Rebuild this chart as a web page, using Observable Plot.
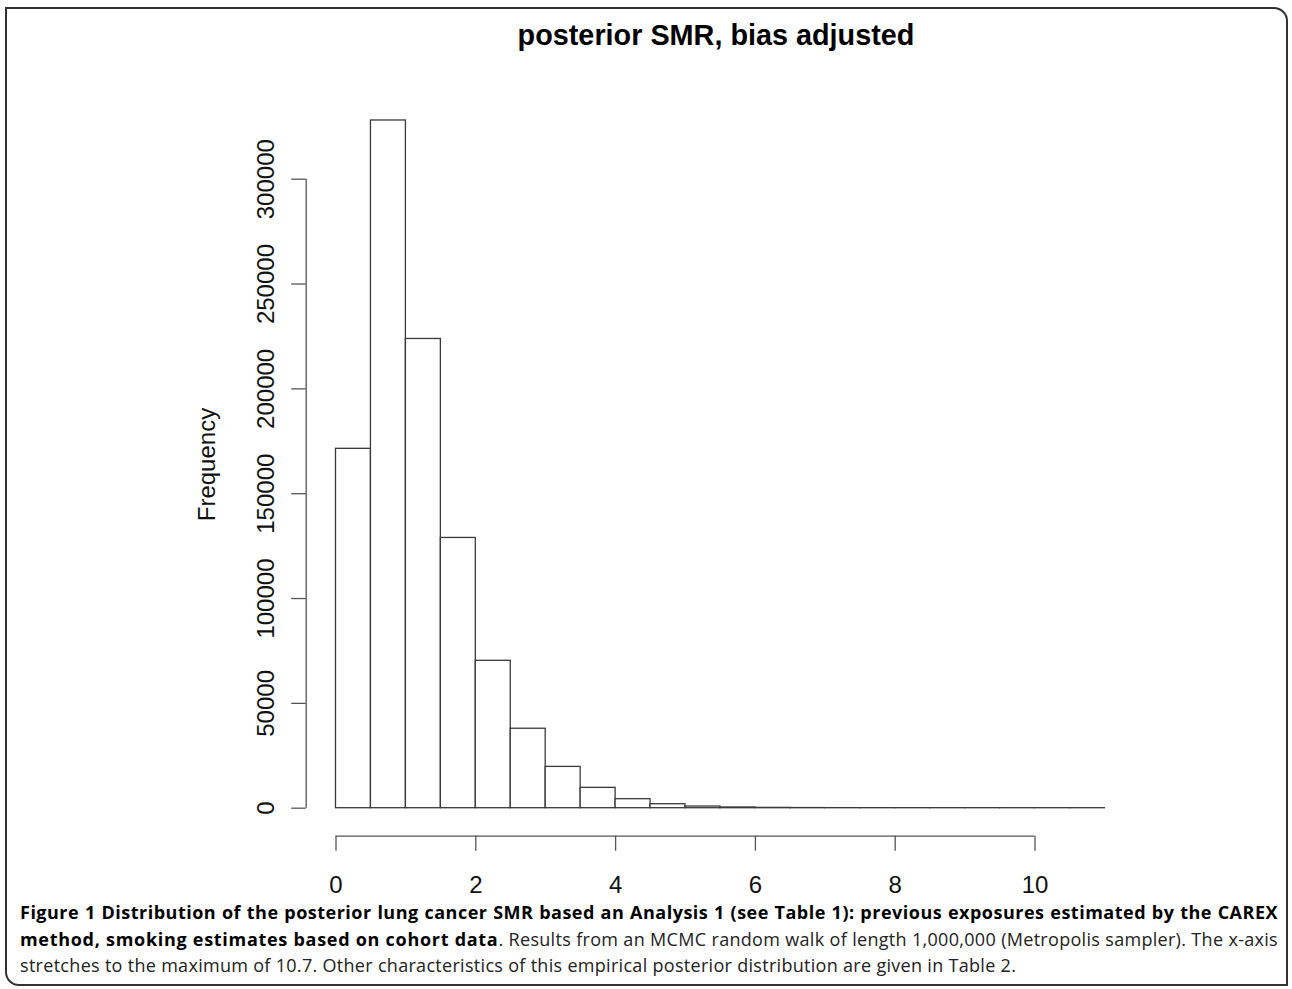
<!DOCTYPE html>
<html>
<head>
<meta charset="utf-8">
<script src="https://cdn.jsdelivr.net/npm/d3@7"></script>
<script src="https://cdn.jsdelivr.net/npm/@observablehq/plot@0.6"></script>
<style>
  html, body { margin: 0; padding: 0; background: #fff; }
  #wrap { position: relative; width: 1292px; height: 989px; overflow: hidden; }
  #border { position: absolute; left: 5px; top: 7px; width: 1279px; height: 975px;
    border: 2px solid #333; border-radius: 0 14px 0 14px; }
  #chart { position: absolute; left: 0; top: 0; }
  #title { position: absolute; left: 716px; top: 20.6px; transform: translateX(-50%);
    font-family: "Liberation Sans", Arial, sans-serif; font-weight: bold; font-size: 28.8px;
    line-height: 28.8px; white-space: nowrap; color: #000; }
  #caption { position: absolute; left: 20px; top: 899px; width: 1258px;
    font-family: "Open Sans", sans-serif; font-size: 18px; line-height: 26.5px; color: #222;
    letter-spacing: 0.3px; }
  #caption .line { display: block; text-align: justify; text-align-last: justify; white-space: nowrap; }
  #caption .line.last { text-align-last: left; }
  #caption b { color: #000; letter-spacing: 0.7px; }
  #caption .first b { letter-spacing: 0.5px; }
</style>
</head>
<body>
<div id="wrap">
  <div id="border"></div>
  <div id="chart"></div>
  <div id="title"></div>
  <div id="caption"></div>
</div>
<script>
// ---- data ----
const titleText = "posterior SMR, bias adjusted";
const yLabel = "Frequency";
const binLower = [0, 0.5, 1, 1.5, 2, 2.5, 3, 3.5, 4, 4.5, 5, 5.5, 6, 6.5, 7, 7.5, 8, 8.5, 9, 9.5, 10, 10.5];
const binWidth = 0.5;
const counts = [171400, 328000, 223800, 128900, 70300, 37900, 19700, 9700, 4300, 1900, 800, 350, 150, 70, 30, 15, 8, 4, 2, 1, 1, 1];
const xTicks = [0, 2, 4, 6, 8, 10];
const yTicks = [0, 50000, 100000, 150000, 200000, 250000, 300000];
const captionBold1 = "Figure 1 Distribution of the posterior lung cancer SMR based an Analysis 1 (see Table 1): previous exposures estimated by the CAREX";
const captionBold2 = "method, smoking estimates based on cohort data";
const captionRest2 = ". Results from an MCMC random walk of length 1,000,000 (Metropolis sampler). The x-axis";
const captionLine3 = "stretches to the maximum of 10.7. Other characteristics of this empirical posterior distribution are given in Table 2.";

const bins = binLower.map((lo, i) => ({x1: lo, x2: lo + binWidth, count: counts[i]}));

const W = 1292, H = 900;
const fontFamily = "'Liberation Sans', Arial, sans-serif";
const axisColor = "#555";

const chart = Plot.plot({
  width: W,
  height: H,
  marginLeft: 305.7,
  marginRight: 157,
  marginTop: 92.4,
  marginBottom: H - 835.7,
  style: {fontFamily, background: "transparent", overflow: "visible"},
  x: {domain: [xTicks[0], xTicks[xTicks.length - 1]], range: [335.5, 1034.5], axis: null},
  y: {domain: [yTicks[0], yTicks[yTicks.length - 1]], range: [807.7, 178.7], axis: null},
  marks: [
    Plot.rectY(bins, {x1: "x1", x2: "x2", y: "count", fill: "white", stroke: "#3a3a3a", strokeWidth: 1.3}),
    // x axis (detached, R style)
    Plot.ruleY([yTicks[0]], {x1: xTicks[0], x2: xTicks[xTicks.length - 1], dy: 28, stroke: axisColor, strokeWidth: 1.3}),
    Plot.axisX({ticks: xTicks, tickSize: 15, tickPadding: 24.3, fontSize: 24, stroke: axisColor, strokeWidth: 1.3, fill: "#111", label: null, tickFormat: d3.format("d")}),
    // y axis
    Plot.ruleX([xTicks[0]], {y1: yTicks[0], y2: yTicks[yTicks.length - 1], dx: -29.8, stroke: axisColor, strokeWidth: 1.3}),
    Plot.axisY({ticks: yTicks, tickSize: 14.5, tickFormat: () => "", stroke: axisColor, strokeWidth: 1.3, label: null}),
    Plot.text(yTicks, {y: d => d, frameAnchor: "left", text: d => d3.format("d")(d), rotate: -90, dx: -39.4, fontSize: 24, fill: "#111", textAnchor: "middle"}),
    Plot.text([yLabel], {frameAnchor: "left", text: d => d, rotate: -90, dx: -98.4, fontSize: 24, fill: "#111", textAnchor: "middle"})
  ]
});
document.getElementById("chart").appendChild(chart);
document.getElementById("title").textContent = titleText;

const cap = document.getElementById("caption");
const l1 = document.createElement("span"); l1.className = "line first";
const b1 = document.createElement("b"); b1.textContent = captionBold1; l1.appendChild(b1);
const l2 = document.createElement("span"); l2.className = "line";
const b2 = document.createElement("b"); b2.textContent = captionBold2; l2.appendChild(b2);
l2.appendChild(document.createTextNode(captionRest2));
const l3 = document.createElement("span"); l3.className = "line last"; l3.textContent = captionLine3;
cap.append(l1, l2, l3);
</script>
</body>
</html>
